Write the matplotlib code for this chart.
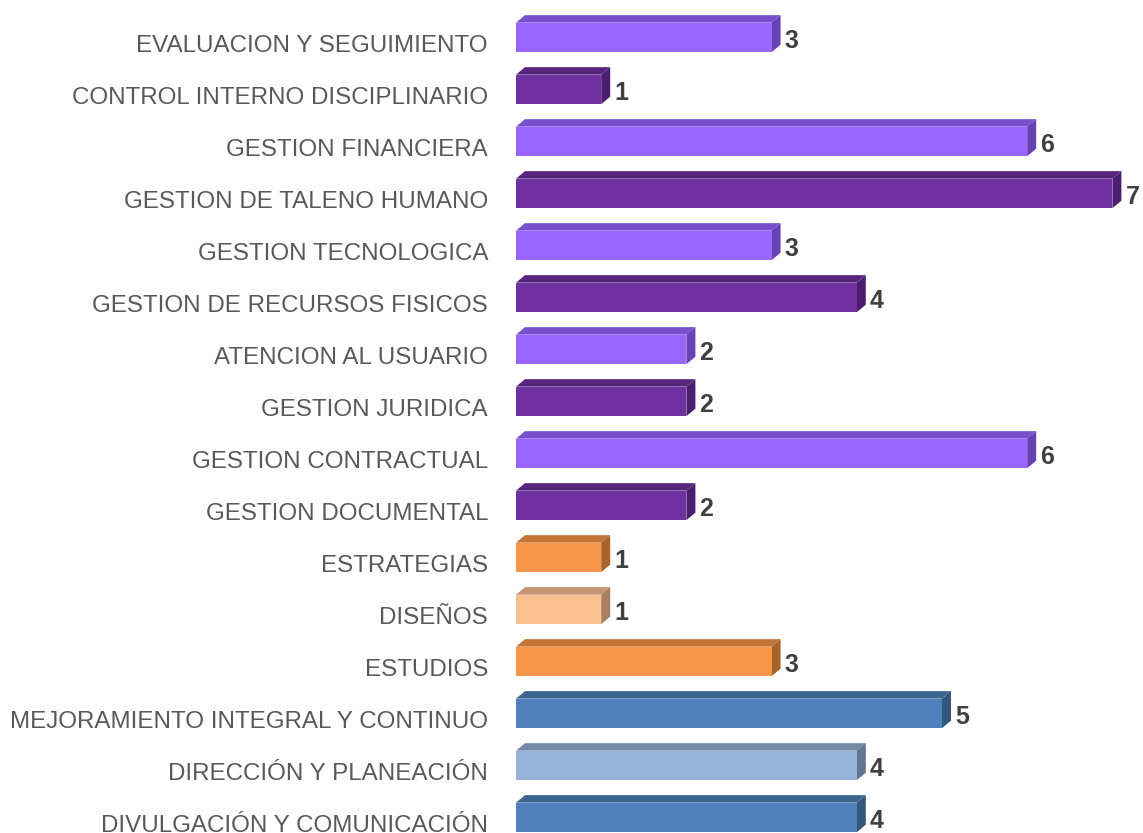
import matplotlib
matplotlib.use("Agg")
import matplotlib.pyplot as plt
from matplotlib.patches import Polygon

categories = [
    "EVALUACION Y SEGUIMIENTO",
    "CONTROL INTERNO DISCIPLINARIO",
    "GESTION FINANCIERA",
    "GESTION DE TALENO HUMANO",
    "GESTION TECNOLOGICA",
    "GESTION DE RECURSOS FISICOS",
    "ATENCION AL USUARIO",
    "GESTION JURIDICA",
    "GESTION CONTRACTUAL",
    "GESTION DOCUMENTAL",
    "ESTRATEGIAS",
    "DISEÑOS",
    "ESTUDIOS",
    "MEJORAMIENTO INTEGRAL Y CONTINUO",
    "DIRECCIÓN Y PLANEACIÓN",
    "DIVULGACIÓN Y COMUNICACIÓN",
]
values = [3, 1, 6, 7, 3, 4, 2, 2, 6, 2, 1, 1, 3, 5, 4, 4]
color_keys = ["lp", "dp", "lp", "dp", "lp", "dp", "lp", "dp", "lp", "dp",
              "or", "lo", "or", "bl", "lb", "bl"]

# front, top, side colours
palette = {
    "lp": ("#9966FF", "#7750CC", "#6642B5"),
    "dp": ("#7030A0", "#582580", "#4A1E6C"),
    "or": ("#F79646", "#C27535", "#A9632B"),
    "lo": ("#FAC090", "#C49570", "#A8805F"),
    "bl": ("#4F81BD", "#3E6592", "#34557C"),
    "lb": ("#95B3D7", "#7489A6", "#637590"),
}

W, H = 1143, 833
fig = plt.figure(figsize=(W / 100, H / 100), dpi=100)
left_px = 516
unit_px = 85.2
row_px = 52.0
first_center_px = 37.4
ax = fig.add_axes([left_px / W, 0, 1 - left_px / W, 1])
ax.set_xlim(0, (W - left_px) / unit_px)
ax.set_ylim((H - first_center_px) / row_px, -first_center_px / row_px)
ax.axis("off")

dx = 9 / unit_px
dy = 7.5 / row_px
bh = 29.5 / row_px

for i, (cat, v, ck) in enumerate(zip(categories, values, color_keys)):
    front, top, side = palette[ck]
    y0 = i - bh / 2  # top edge (screen)
    y1 = i + bh / 2  # bottom edge
    # top face
    ax.add_patch(Polygon([(0, y0), (v, y0), (v + dx, y0 - dy), (dx, y0 - dy)],
                         closed=True, facecolor=top, edgecolor="none", zorder=2))
    # side face
    ax.add_patch(Polygon([(v, y0), (v + dx, y0 - dy), (v + dx, y1 - dy), (v, y1)],
                         closed=True, facecolor=side, edgecolor="none", zorder=2))
    # front face
    ax.add_patch(Polygon([(0, y0), (v, y0), (v, y1), (0, y1)],
                         closed=True, facecolor=front, edgecolor="none", zorder=3))
    # value label
    ax.text(v + dx + 4 / unit_px, i + 0.07, str(v), ha="left", va="center",
            fontsize=18, fontweight="heavy", color="#404040",
            family=["Liberation Sans", "DejaVu Sans"], zorder=4, clip_on=False)
    # category label
    fig.text((left_px - 28) / W, 1 - (first_center_px + i * row_px + 8.5) / H, cat,
             ha="right", va="center", fontsize=17.4, color="#595959",
             family=["Liberation Sans", "DejaVu Sans"])

fig.savefig("out.png", dpi=100)
